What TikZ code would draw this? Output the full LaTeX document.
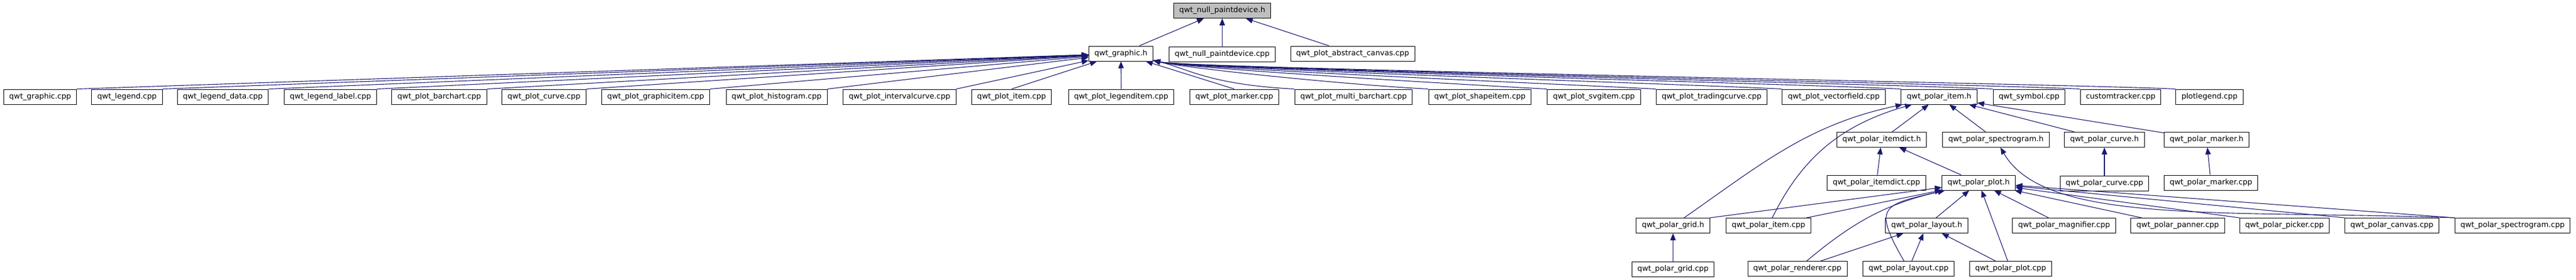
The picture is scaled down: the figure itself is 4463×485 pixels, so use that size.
\documentclass[tikz,border=0pt]{standalone}
\usepackage{fontspec}
\setmainfont{DejaVu Sans}
\usepackage{tikz}
\usetikzlibrary{positioning}
\usetikzlibrary{graphs}
\usetikzlibrary{arrows.meta}
\definecolor{depblue}{HTML}{191970}
\definecolor{rootgray}{HTML}{BFBFBF}
\tikzset{
    file/.style={draw=black, line width=1pt, fill=white, inner xsep=9.7pt, inner ysep=0pt,
        minimum height=26pt, text height=9.5pt, text depth=3pt, font=\fontsize{13}{15}\selectfont},
    root/.style={file, fill=rootgray},
    dep/.style={color=depblue, line width=1.1pt},
}

\begin{document}
\begin{tikzpicture}[x=1pt, y=1pt, >={Triangle[length=12pt,width=9.5pt]}]
            \useasboundingbox (0,0) rectangle (4463,-485);

            \node (np)   [root] at (2117.5,-18.5)      {qwt\_null\_paintdevice.h};
            \node (gh)   [file] at (1942,-93)          {qwt\_graphic.h};
            \node (npc)  [file, below=48.5pt of np]    {qwt\_null\_paintdevice.cpp};
            \node (pac)  [file] at (2343.5,-93)        {qwt\_plot\_abstract\_canvas.cpp};

            \node (gc)   [file] at (69.5,-168)         {qwt\_graphic.cpp};
            \node (lc)   [file] at (220,-168)          {qwt\_legend.cpp};
            \node (ldc)  [file] at (386,-168)          {qwt\_legend\_data.cpp};
            \node (llc)  [file] at (572.5,-168)        {qwt\_legend\_label.cpp};
            \node (pbc)  [file] at (761,-168)          {qwt\_plot\_barchart.cpp};
            \node (pcc)  [file] at (942.5,-168)        {qwt\_plot\_curve.cpp};
            \node (pgc)  [file] at (1136,-168)         {qwt\_plot\_graphicitem.cpp};
            \node (phc)  [file] at (1345.5,-168)       {qwt\_plot\_histogram.cpp};
            \node (pic)  [file] at (1558.5,-168)       {qwt\_plot\_intervalcurve.cpp};
            \node (pitc) [file] at (1752.5,-168)       {qwt\_plot\_item.cpp};
            \node (plc)  [file] at (1942.5,-168)       {qwt\_plot\_legenditem.cpp};
            \node (pmc)  [file] at (2138.5,-168)       {qwt\_plot\_marker.cpp};
            \node (pmbc) [file] at (2345,-168)         {qwt\_plot\_multi\_barchart.cpp};
            \node (psc)  [file] at (2564,-168)         {qwt\_plot\_shapeitem.cpp};
            \node (psvc) [file] at (2761.5,-168)       {qwt\_plot\_svgitem.cpp};
            \node (ptc)  [file] at (2965.5,-168)       {qwt\_plot\_tradingcurve.cpp};
            \node (pvc)  [file] at (3177,-168)         {qwt\_plot\_vectorfield.cpp};
            \node (qih)  [file] at (3359.5,-168)       {qwt\_polar\_item.h};
            \node (syc)  [file] at (3515.5,-168)       {qwt\_symbol.cpp};
            \node (ctc)  [file] at (3674,-168)         {customtracker.cpp};
            \node (plgc) [file] at (3828,-168)         {plotlegend.cpp};

            \node (qidh) [file] at (3260,-242.5)       {qwt\_polar\_itemdict.h};
            \node (qsh)  [file] at (3458,-242.5)       {qwt\_polar\_spectrogram.h};
            \node (qch)  [file] at (3646,-242.5)       {qwt\_polar\_curve.h};
            \node (qmh)  [file] at (3823,-242.5)       {qwt\_polar\_marker.h};

            \node (qidc) [file] at (3251,-317)         {qwt\_polar\_itemdict.cpp};
            \node (qph)  [file] at (3428,-317)         {qwt\_polar\_plot.h};
            \node (qcc)  [file, below=48.5pt of qch]   {qwt\_polar\_curve.cpp};
            \node (qmc)  [file] at (3830.5,-317)       {qwt\_polar\_marker.cpp};

            \node (qgh)  [file] at (2898.5,-391.5)     {qwt\_polar\_grid.h};
            \node (qic)  [file] at (3064,-391.5)       {qwt\_polar\_item.cpp};
            \node (qlh)  [file] at (3338,-391.5)       {qwt\_polar\_layout.h};
            \node (qmgc) [file] at (3576,-391.5)       {qwt\_polar\_magnifier.cpp};
            \node (qpnc) [file] at (3773,-391.5)       {qwt\_polar\_panner.cpp};
            \node (qpkc) [file] at (3958,-391.5)       {qwt\_polar\_picker.cpp};
            \node (qcvc) [file] at (4144,-391.5)       {qwt\_polar\_canvas.cpp};
            \node (qsc)  [file] at (4353,-391.5)       {qwt\_polar\_spectrogram.cpp};

            \node (qgc)  [file, below=49pt of qgh]     {qwt\_polar\_grid.cpp};
            \node (qrc)  [file] at (3114,-466.5)       {qwt\_polar\_renderer.cpp};
            \node (qlc)  [file] at (3306.5,-466.5)     {qwt\_polar\_layout.cpp};
            \node (qpc)  [file] at (3483.5,-466.5)     {qwt\_polar\_plot.cpp};

            \begin{scope}[dep]
            \graph{
                (gh) -> (np);
                (npc) -> (np);
                (pac) -> (np);
                (qidh) -> (qih);
                (qsh) -> (qih);
                (qch) -> (qih);
                (qmh) -> (qih);
                (qgh) -> [out=35,in=192] (qih);
                (qic) -> [out=64,in=196] (qih);
                (qidc) -> (qidh);
                (qph) -> (qidh);
                (qcc) -> (qch);
                (qmc) -> (qmh);
                (qic) -> (qph);
                (qlh) -> (qph);
                (qmgc) -> (qph);
                (qpnc) -> (qph);
                (qpc) -> (qph);
                (qrc) -> [out=40,in=193] (qph);
                (qlc) -> [out=120,in=193,looseness=2] (qph);
                (qrc) -> (qlh);
                (qlc) -> (qlh);
                (qpc) -> (qlh);
                (qgc) -> (qgh);
            };
            \end{scope}

            \foreach \n in {gc,lc,ldc,llc,pbc,pcc,pgc,phc,pic}
                \draw[dep,->] (\n.north east) -- (gh);
            \foreach \n in {pitc,plc,pmc}
                \draw[dep,->] (\n.north) -- (gh);
            \foreach \n in {pmbc,psc,psvc,ptc,pvc,qih,syc,ctc,plgc}
                \draw[dep,->] (\n.north west) .. controls +(-150,8) and +(60,-14) .. (gh.-12);
            \foreach \n in {qpkc,qcvc,qsc}
                \draw[dep,->] (\n.north west) -- (qph);
            \draw[dep,->] (qgh.north east) -- (qph);
            \draw[dep,->] (qsc.north west) to[out=178,in=-60,out looseness=1.3,in looseness=0.5] (qsh);
        \end{tikzpicture}
\end{document}
